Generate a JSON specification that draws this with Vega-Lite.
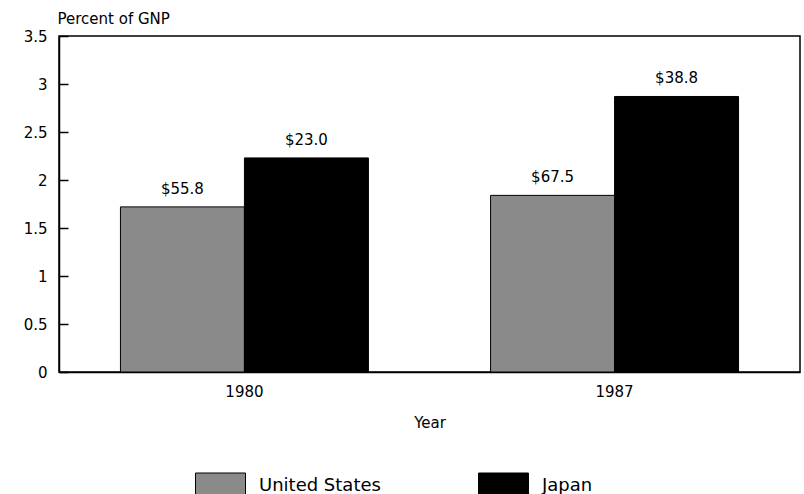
{
  "$schema": "https://vega.github.io/schema/vega-lite/v6.json",
  "width": 741,
  "height": 336,
  "autosize": {"type": "none"},
  "padding": {"left": 59, "top": 36, "right": 4, "bottom": 122},
  "background": "white",
  "config": {
    "font": "DejaVu Sans",
    "view": {"stroke": "black", "strokeWidth": 1.5},
    "axis": {"labelColor": "black", "titleColor": "black", "domainColor": "black", "tickColor": "black", "labelFontSize": 15, "titleFontSize": 15, "titleFontWeight": "normal"}
  },
  "data": {
    "values": [
      {"year": "1980", "country": "United States", "value": 1.72, "label": "$55.8"},
      {"year": "1980", "country": "Japan", "value": 2.23, "label": "$23.0"},
      {"year": "1987", "country": "United States", "value": 1.84, "label": "$67.5"},
      {"year": "1987", "country": "Japan", "value": 2.87, "label": "$38.8"}
    ]
  },
  "encoding": {
    "x": {
      "field": "year", "type": "nominal",
      "scale": {"paddingInner": 0.33, "paddingOuter": 0.166},
      "axis": {"title": "Year", "labelAngle": 0, "ticks": false, "grid": false, "labelPadding": 12, "titlePadding": 16, "domainWidth": 1.5}
    },
    "xOffset": {"field": "country", "type": "nominal", "sort": ["United States", "Japan"]},
    "y": {
      "field": "value", "type": "quantitative",
      "scale": {"domain": [0, 3.5], "nice": false},
      "axis": {"values": [0, 0.5, 1, 1.5, 2, 2.5, 3, 3.5], "format": "~g", "ticks": false, "grid": true, "gridColor": "#000000", "gridOpacity": 1, "gridWidth": 1.5, "gridDash": [9, 3000], "labelPadding": 12, "title": "Percent of GNP", "titleAngle": 0, "titleAlign": "left", "titleBaseline": "bottom", "titleX": -2, "titleY": -10, "titleFontSize": 15, "domainWidth": 1.5}
    }
  },
  "layer": [
    {
      "mark": {"type": "bar", "stroke": "black", "strokeWidth": 1},
      "encoding": {
        "color": {
          "field": "country", "type": "nominal",
          "sort": ["United States", "Japan"],
          "scale": {"domain": ["United States", "Japan"], "range": ["#8a8a8a", "#000000"]},
          "legend": {
            "title": null, "orient": "none", "direction": "horizontal", "legendX": 136, "legendY": 424,
            "symbolType": "M-1,-0.5H1V0.5H-1Z", "symbolSize": 2500, "symbolStrokeColor": "black", "symbolStrokeWidth": 1,
            "labelFontSize": 18, "labelColor": "black", "labelOffset": 13, "columnPadding": 95, "symbolOpacity": 1
          }
        }
      }
    },
    {
      "mark": {"type": "text", "baseline": "bottom", "dy": -10, "fontSize": 15, "color": "black"},
      "encoding": {"text": {"field": "label"}}
    }
  ]
}
